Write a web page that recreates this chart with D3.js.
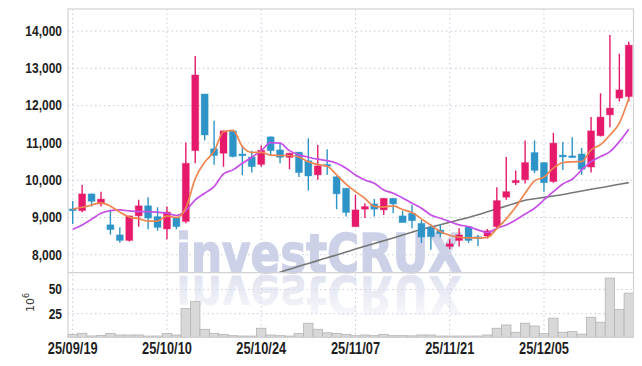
<!DOCTYPE html>
<html>
<head>
<meta charset="utf-8">
<script src="https://cdn.jsdelivr.net/npm/d3@7"></script>
<style>
  body { margin: 0; background: #fff; }
  svg { display: block; }
  .tick text { font-family: "Liberation Sans", Arial, sans-serif; font-weight: bold; fill: #1e1e1e; }
</style>
</head>
<body>
<svg id="chart" width="642" height="366"></svg>
<script>
// trading days, yy/mm/dd
const dates = [
    "25/09/19","25/09/22","25/09/23","25/09/24","25/09/25","25/09/26","25/09/29","25/09/30",
    "25/10/01","25/10/02","25/10/10","25/10/13","25/10/14","25/10/15","25/10/16","25/10/17",
    "25/10/20","25/10/21","25/10/22","25/10/23","25/10/24","25/10/27","25/10/28","25/10/29",
    "25/10/30","25/10/31","25/11/03","25/11/04","25/11/05","25/11/06","25/11/07","25/11/10",
    "25/11/11","25/11/12","25/11/13","25/11/14","25/11/17","25/11/18","25/11/19","25/11/20",
    "25/11/21","25/11/24","25/11/25","25/11/26","25/11/27","25/11/28","25/12/01","25/12/02",
    "25/12/03","25/12/04","25/12/05","25/12/08","25/12/09","25/12/10","25/12/11","25/12/12",
    "25/12/15","25/12/16","25/12/17","25/12/18"
];
const opens = [9216,9170,9620,9350,8790,8520,8370,9030,9300,9010,8680,8980,8880,10780,12300,10830,10710,11310,10690,10610,
    10410,11150,10800,10600,10740,10510,10130,10410,10080,9770,8740,9210,9350,9190,9500,9030,9100,8830,8730,8650,
    8210,8370,8740,8470,8490,8740,9530,9920,10000,10730,10460,9950,10660,10640,10690,10340,11180,11740,12190,12230];
const highs = [9430,9860,9630,9680,9170,8725,9030,9460,9530,9260,9280,9000,11000,13320,12300,11580,11320,11330,10920,10780,
    10920,11160,10980,10720,10740,11110,10930,10820,10090,9780,9590,9370,9480,9510,9510,9170,9320,8920,8790,8790,
    8400,8700,8750,8520,8680,9800,10610,10250,11050,11050,10470,11260,11010,11140,10850,11680,12320,13880,13380,13700];
const lows = [8814,9128,9280,9280,8520,8310,8340,8740,8670,8630,8400,8670,8830,10440,11050,10400,10350,10600,10120,10190,
    10350,10660,10440,10280,10070,9710,10000,10130,9210,9010,8740,8970,9010,9050,9100,8850,8700,8300,8120,8450,
    8140,8210,8300,8220,8420,8700,9460,9860,9900,10180,9680,9920,10260,10580,10130,10190,11160,11410,12100,12100];
const closes = [9170,9620,9420,9480,8660,8370,9030,9300,8970,8720,9130,8740,10440,12810,11200,10650,11310,10620,10650,10350,
    10790,10780,10600,10710,10190,10100,10370,10370,9620,9120,9190,9280,9210,9500,9350,8850,8900,8460,8470,8550,
    8280,8520,8370,8450,8630,9440,9680,9980,10460,10250,9920,10980,10630,10610,10280,11310,11680,11920,12410,13610];
// volume, millions of shares
const volumes = [3.1,4.2,1.4,2,4,2.4,2.4,2.4,1.3,1.3,4,2.4,30,37,8.3,4.2,3,1.7,1.3,1.3,
    9.4,2.4,1.7,1.3,4,14.6,8.3,4.7,4,3,1.7,2.4,1.7,3,1.7,1.7,1.5,2.4,2.4,1.3,
    1.3,1.3,1.3,1.3,2.4,9.4,12.8,5.2,14.6,11.7,4,19.8,5.2,5.9,3.3,20.8,15.6,61.4,29,45.8];
// moving averages
const ma5 = [9210,9260,9320,9380,9290,9130,9000,8955,8890,8890,9030,8985,9240,10030,10470,10760,11285,11325,10890,10730,
    10735,10660,10650,10650,10610,10480,10405,10360,10130,9880,9680,9500,9285,9265,9300,9200,9120,8950,8780,8610,
    8510,8456,8440,8440,8455,8690,8950,9270,9636,9970,10070,10312,10455,10480,10485,10800,10940,11200,11518,12186];
const ma20 = [8672,8787,8940,9100,9170,9190,9162,9144,9144,9127,9100,9040,9170,9458,9637,9815,10156,10264,10442,10603,
    10773,10995,10979,10780,10665,10603,10550,10512,10442,10308,10128,9994,9906,9726,9637,9511,9369,9235,9055,8967,
    8876,8787,8742,8653,8580,8698,8787,8921,9082,9235,9458,9680,9887,10013,10263,10485,10620,10754,11022,11355];
const maLongStart = 21;
const maLong = [7440,7520,7598,7676,7752,7829,7907,7982,8060,8138,8213,8288,8363,8438,8516,8591,8664,8728,8793,8860,
    8924,8988,9061,9139,9216,9294,9372,9450,9487,9527,9565,9602,9651,9696,9742,9785,9831,9876,9922];
const priceTicks = [8000, 9000, 10000, 11000, 12000, 13000, 14000];
const volTicks = [25, 50];
const dateTicks = [0, 10, 20, 30, 40, 50];

const svg = d3.select("#chart");
const margin = { L: 68, R: 633.5, T: 9, mid: 272.7, B: 337.3 };
const upColor = "#e61a6a";
const downColor = "#2e94c8";
const gridColor = "#c6cadc";

const x = d3.scaleBand()
    .domain(d3.range(dates.length))
    .range([margin.L, margin.R]);
const y = d3.scaleLinear()
    .domain([7505, 14580])
    .range([margin.mid, margin.T]);
const yVol = d3.scaleLinear()
    .domain([0, 67])
    .range([margin.B, margin.mid]);
const cx = i => x(i) + x.bandwidth() / 2;

// squeeze labels to look like the narrow face of the original
function narrow(sel, k) {
    sel.each(function() {
        const w = this.getComputedTextLength();
        d3.select(this).attr("textLength", w * k).attr("lengthAdjust", "spacingAndGlyphs");
    });
}

svg.append("defs").append("clipPath")
    .attr("id", "priceClip")
    .append("rect")
    .attr("x", margin.L).attr("y", margin.T)
    .attr("width", margin.R - margin.L).attr("height", margin.mid - margin.T);

const grad = svg.select("defs").append("linearGradient")
    .attr("id", "fade").attr("x1", 0).attr("y1", 0).attr("x2", 0).attr("y2", 1);
grad.append("stop").attr("offset", "0%").attr("stop-color", "#d9dcec").attr("stop-opacity", 0.05);
grad.append("stop").attr("offset", "100%").attr("stop-color", "#d9dcec").attr("stop-opacity", 1);

// ---- GRID ---- //

svg.append("g")
    .attr("transform", `translate(${margin.L},0)`)
    .call(d3.axisLeft(y).tickValues(priceTicks).tickSize(-(margin.R - margin.L)).tickFormat(""))
    .call(g => g.select(".domain").remove())
    .selectAll("line")
    .attr("stroke", gridColor).attr("stroke-dasharray", "1.5,3");

svg.append("g")
    .attr("transform", `translate(${margin.L},0)`)
    .call(d3.axisLeft(yVol).tickValues(volTicks).tickSize(-(margin.R - margin.L)).tickFormat(""))
    .call(g => g.select(".domain").remove())
    .selectAll("line")
    .attr("stroke", gridColor).attr("stroke-dasharray", "1.5,3");

svg.append("g")
    .selectAll("line")
    .data(dateTicks)
    .join("line")
    .attr("x1", d => cx(d)).attr("x2", d => cx(d))
    .attr("y1", margin.T).attr("y2", margin.B)
    .attr("stroke", gridColor).attr("stroke-dasharray", "1.5,3");

// ---- WATERMARK ---- //

const wm = svg.append("g")
    .style("font-family", "'DejaVu Sans', sans-serif")
    .style("font-weight", "bold")
    .style("font-size", "54px");
wm.append("text")
    .attr("x", 319).attr("y", 272)
    .attr("text-anchor", "middle")
    .attr("textLength", 286).attr("lengthAdjust", "spacingAndGlyphs")
    .attr("fill", "#cdd1e7")
    .attr("stroke", "#cdd1e7")
    .attr("stroke-width", 1.5)
    .text("investCRUX");
wm.append("text")
    .attr("x", 319).attr("y", 272)
    .attr("transform", "translate(0,548) scale(1,-1)")
    .attr("text-anchor", "middle")
    .attr("textLength", 286).attr("lengthAdjust", "spacingAndGlyphs")
    .attr("fill", "url(#fade)")
    .text("investCRUX");

// ---- VOLUME ---- //

svg.append("g")
    .selectAll("rect")
    .data(volumes)
    .join("rect")
    .attr("x", (d, i) => x(i))
    .attr("y", d => yVol(d))
    .attr("width", x.bandwidth())
    .attr("height", d => yVol(0) - yVol(d))
    .attr("fill", "#d8d8d8")
    .attr("stroke", "#b4b4b4")
    .attr("stroke-width", 0.8);

// ---- MOVING AVERAGES ---- //

const plotArea = svg.append("g").attr("clip-path", "url(#priceClip)");

const line = d3.line()
    .x(d => cx(d.i))
    .y(d => y(d.v))
    .curve(d3.curveMonotoneX);

const toPts = (arr, start) => arr.map((v, k) => ({ i: k + start, v: v }));

plotArea.append("path")
    .datum(toPts(maLong, maLongStart))
    .attr("d", line)
    .attr("fill", "none").attr("stroke", "#777").attr("stroke-width", 1.6);

// ---- CANDLES ---- //

const candles = plotArea.append("g")
    .selectAll("g")
    .data(d3.range(dates.length))
    .join("g");

candles.append("line")
    .attr("x1", i => cx(i)).attr("x2", i => cx(i))
    .attr("y1", i => y(highs[i])).attr("y2", i => y(lows[i]))
    .attr("stroke", i => closes[i] >= opens[i] ? upColor : downColor)
    .attr("stroke-width", 1.4);

const bodyW = 7;
candles.append("rect")
    .attr("x", i => cx(i) - bodyW / 2)
    .attr("y", i => y(Math.max(opens[i], closes[i])))
    .attr("width", bodyW)
    .attr("height", i => Math.max(1.8, Math.abs(y(opens[i]) - y(closes[i]))))
    .attr("fill", i => closes[i] >= opens[i] ? upColor : downColor)
    .attr("stroke", i => closes[i] >= opens[i] ? upColor : downColor)
    .attr("stroke-opacity", 0.35)
    .attr("stroke-width", 1);

plotArea.append("path")
    .datum(toPts(ma20, 0))
    .attr("d", line)
    .attr("fill", "none").attr("stroke", "#c64fe6").attr("stroke-width", 1.7);

plotArea.append("path")
    .datum(toPts(ma5, 0))
    .attr("d", line)
    .attr("fill", "none").attr("stroke", "#ef854f").attr("stroke-width", 1.7);

// ---- FRAME ---- //

const frame = svg.append("g").attr("stroke", "#d2d2d6").attr("fill", "none");
frame.append("rect")
    .attr("x", margin.L).attr("y", margin.T)
    .attr("width", margin.R - margin.L).attr("height", margin.B - margin.T)
    .attr("stroke-width", 1.2);
frame.append("line")
    .attr("x1", margin.L).attr("x2", margin.R)
    .attr("y1", margin.mid).attr("y2", margin.mid)
    .attr("stroke-width", 1.2);

// ---- AXES ---- //

svg.append("g")
    .attr("transform", `translate(${margin.L},0)`)
    .call(d3.axisLeft(y).tickValues(priceTicks).tickSize(0).tickPadding(6).tickFormat(d3.format(",")))
    .call(g => g.select(".domain").remove())
    .selectAll("text").style("font-size", "15px").call(narrow, 0.8);

svg.append("g")
    .attr("transform", `translate(${margin.L},0)`)
    .call(d3.axisLeft(yVol).tickValues(volTicks).tickSize(0).tickPadding(6))
    .call(g => g.select(".domain").remove())
    .selectAll("text").style("font-size", "15px").call(narrow, 0.8);

svg.append("g")
    .attr("transform", `translate(0,${margin.B})`)
    .call(d3.axisBottom(x).tickValues(dateTicks).tickSize(0).tickPadding(5).tickFormat(i => dates[i]))
    .call(g => g.select(".domain").remove())
    .selectAll("text").style("font-size", "16px").call(narrow, 0.8);

const unit = svg.append("text")
    .attr("transform", "translate(34,312) rotate(-90)")
    .style("font-family", "'DejaVu Sans', sans-serif")
    .style("font-size", "11px")
    .attr("fill", "#333");
unit.append("tspan").text("10");
unit.append("tspan").attr("dy", -5).style("font-size", "8px").text("6");
</script>
</body>
</html>
